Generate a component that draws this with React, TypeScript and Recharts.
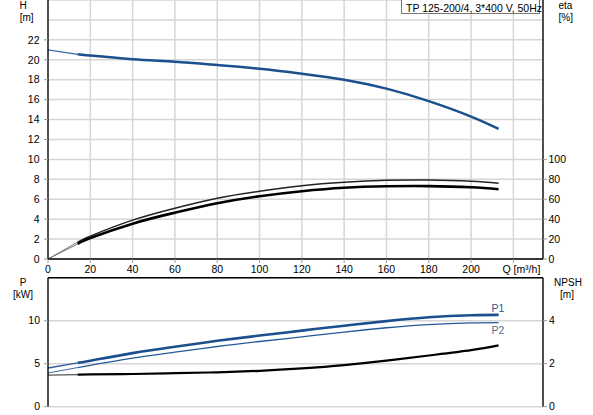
import React from "react";
import {
  LineChart,
  Line,
  XAxis,
  YAxis,
  CartesianGrid,
  ReferenceLine,
} from "recharts";

// ---------- data ----------
const Q_EXT = [0, 14];
const Q_MAIN = [14, 20, 40, 60, 80, 100, 120, 140, 160, 180, 200, 213];

const H_EXT = [21.0, 20.55];
const H_MAIN = [20.55, 20.42, 20.06, 19.8, 19.47, 19.1, 18.6, 18.0, 17.1, 15.85, 14.3, 13.07];

const ETA1_EXT = [0, 17];
const ETA1_MAIN = [17, 23, 39, 51, 61, 68, 73.5, 77, 79, 79.3, 78, 76];
const ETA2_EXT = [0, 15];
const ETA2_MAIN = [15, 21, 35.5, 46.5, 56, 63, 68, 71.5, 73, 73.2, 72, 70];

const P1_EXT = [4.5, 5.1];
const P1_MAIN = [5.1, 5.35, 6.23, 6.97, 7.66, 8.27, 8.85, 9.42, 9.95, 10.4, 10.64, 10.68];
const P2_EXT = [3.92, 4.55];
const P2_MAIN = [4.55, 4.81, 5.65, 6.34, 7.0, 7.58, 8.12, 8.68, 9.18, 9.55, 9.74, 9.78];

const NPSH_EXT = [1.47, 1.49];
const NPSH_MAIN = [1.49, 1.5, 1.52, 1.56, 1.6, 1.67, 1.78, 1.93, 2.14, 2.38, 2.63, 2.85];

const X_TICKS = [0, 20, 40, 60, 80, 100, 120, 140, 160, 180, 200, 220];
const H_TICKS = [0, 2, 4, 6, 8, 10, 12, 14, 16, 18, 20, 22, 24, 26];
const ETA_TICKS = [0, 20, 40, 60, 80, 100, 260];
const P_TICKS = [0, 5, 10, 15];
const NPSH_TICKS = [0, 2, 4, 6];

const TITLE = "TP 125-200/4, 3*400 V, 50Hz";

const build = (qs: number[], ys: number[]) => qs.map((q, i) => ({ q, y: ys[i] }));

// ---------- styles ----------
const FONT = "'Liberation Sans', Arial, sans-serif";
const FS = 10.5;
const GRID = "#d6d6d6";
const TICK_LINE = "#999";
const BLUE = "#1b4f8d";

const txt = { fontFamily: FONT, fontSize: FS, fill: "#000" } as const;
const utxt = { fontFamily: FONT, fontSize: 10, fill: "#000" } as const;

const XTick = (props: any) => {
  const { x, y, payload } = props;
  return (
    <g>
      <line x1={x} y1={y} x2={x} y2={y + 4} stroke={TICK_LINE} />
      {payload.value === 220 ? (
        <text x={x - 11} y={y + 14} textAnchor="start" {...txt}>
          Q [m³/h]
        </text>
      ) : (
        <text x={x} y={y + 14} textAnchor="middle" {...txt}>
          {payload.value}
        </text>
      )}
    </g>
  );
};

const HTick = (props: any) => {
  const { x, y, payload } = props;
  if (payload.value === 26) {
    return (
      <g>
        <text x={23} y={y + 9.1} textAnchor="middle" {...utxt}>H</text>
        <text x={26.7} y={y + 20.6} textAnchor="middle" {...utxt}>[m]</text>
      </g>
    );
  }
  if (payload.value === 24) return <g />;
  return (
    <g>
      <line x1={x - 4} y1={y} x2={x} y2={y} stroke={TICK_LINE} />
      <text x={x - 8.5} y={y + 3.75} textAnchor="end" {...txt}>
        {payload.value}
      </text>
    </g>
  );
};

const EtaTick = (props: any) => {
  const { x, y, payload } = props;
  if (payload.value === 260) {
    return (
      <g>
        <text x={x + 15.5} y={y + 9.1} textAnchor="start" {...utxt}>eta</text>
        <text x={x + 15.5} y={y + 20.6} textAnchor="start" {...utxt}>[%]</text>
      </g>
    );
  }
  return (
    <g>
      <line x1={x} y1={y} x2={x + 4} y2={y} stroke={TICK_LINE} />
      <text x={x + 5.5} y={y + 3.75} textAnchor="start" {...txt}>
        {payload.value}
      </text>
    </g>
  );
};

const PTick = (props: any) => {
  const { x, y, payload } = props;
  if (payload.value === 15) {
    return (
      <g>
        <text x={23} y={y + 8.3} textAnchor="middle" {...utxt}>P</text>
        <text x={23} y={y + 19.8} textAnchor="middle" {...utxt}>[kW]</text>
      </g>
    );
  }
  return (
    <g>
      <line x1={x - 4} y1={y} x2={x} y2={y} stroke={TICK_LINE} />
      <text x={x - 8} y={y + 3.75} textAnchor="end" {...txt}>
        {payload.value}
      </text>
    </g>
  );
};

const NpshTick = (props: any) => {
  const { x, y, payload } = props;
  if (payload.value === 6) {
    return (
      <g>
        <text x={568} y={y + 8.3} textAnchor="middle" {...utxt}>NPSH</text>
        <text x={567} y={y + 19.8} textAnchor="middle" {...utxt}>[m]</text>
      </g>
    );
  }
  return (
    <g>
      <line x1={x} y1={y} x2={x + 4} y2={y} stroke={TICK_LINE} />
      <text x={x + 6} y={y + 3.75} textAnchor="start" {...txt}>
        {payload.value}
      </text>
    </g>
  );
};

const endLabel = (name: string, dx: number, dy: number, color: string, lastIndex: number) =>
  (props: any) => {
    const { x, y, index } = props;
    if (index !== lastIndex) return null;
    return (
      <text x={x + dx} y={y + dy} textAnchor="start" fontFamily={FONT} fontSize={FS} fill={color}>
        {name}
      </text>
    );
  };

export default function App() {
  const last = Q_MAIN.length - 1;
  const lineCommon = {
    dot: false,
    activeDot: false,
    isAnimationActive: false,
    type: "natural" as const,
    dataKey: "y",
  };
  return (
    <div
      style={{
        position: "absolute",
        left: 0,
        top: 0,
        width: 593,
        height: 415,
        background: "#fff",
        overflow: "hidden",
      }}
    >
      <div style={{ position: "absolute", left: 0, top: 0 }}>
        <LineChart width={593} height={275} margin={{ top: 0, right: 0, bottom: 0, left: 0 }}>
          <CartesianGrid stroke={GRID} strokeWidth={1.5} xAxisId="q" yAxisId="h" />
          <XAxis
            xAxisId="q"
            dataKey="q"
            type="number"
            domain={[0, 234]}
            ticks={X_TICKS}
            interval={0}
            height={16}
            tickSize={0}
            tickMargin={0}
            tickLine={false}
            tick={<XTick />}
            axisLine={{ stroke: "#000", strokeWidth: 1.3 }}
          />
          <YAxis
            yAxisId="h"
            type="number"
            domain={[0, 26]}
            ticks={H_TICKS}
            interval={0}
            width={48}
            tickSize={0}
            tickMargin={0}
            tickLine={false}
            tick={<HTick />}
            axisLine={{ stroke: "#000", strokeWidth: 1.3 }}
          />
          <YAxis
            yAxisId="eta"
            orientation="right"
            type="number"
            domain={[0, 260]}
            ticks={ETA_TICKS}
            interval={0}
            width={50}
            tickSize={0}
            tickMargin={0}
            tickLine={false}
            tick={<EtaTick />}
            axisLine={{ stroke: "#000", strokeWidth: 1.3 }}
          />
          <Line {...lineCommon} xAxisId="q" yAxisId="h" data={build(Q_EXT, H_EXT)} stroke="#3f6aa3" strokeWidth={1.2} />
          <Line {...lineCommon} xAxisId="q" yAxisId="h" data={build(Q_MAIN, H_MAIN)} stroke={BLUE} strokeWidth={2.5} />
          <Line {...lineCommon} xAxisId="q" yAxisId="eta" data={build(Q_EXT, ETA1_EXT)} stroke="#777" strokeWidth={1} />
          <Line {...lineCommon} xAxisId="q" yAxisId="eta" data={build(Q_EXT, ETA2_EXT)} stroke="#777" strokeWidth={1} />
          <Line {...lineCommon} xAxisId="q" yAxisId="eta" data={build(Q_MAIN, ETA1_MAIN)} stroke="#222" strokeWidth={1.5} />
          <Line {...lineCommon} xAxisId="q" yAxisId="eta" data={build(Q_MAIN, ETA2_MAIN)} stroke="#000" strokeWidth={2.6} />
        </LineChart>
      </div>
      <div
        style={{
          position: "absolute",
          left: 401,
          top: -1,
          width: 139,
          height: 15,
          border: "1px solid #777",
          background: "#fff",
          fontFamily: FONT,
          fontSize: FS,
          lineHeight: "16px",
          paddingLeft: 4,
          boxSizing: "border-box",
          whiteSpace: "nowrap",
          color: "#000",
        }}
      >
        {TITLE}
      </div>
      <div style={{ position: "absolute", left: 0, top: 275 }}>
        <LineChart width={593} height={140} margin={{ top: 2.7, right: 0, bottom: 8.3, left: 0 }}>
          <CartesianGrid stroke={GRID} strokeWidth={1.5} xAxisId="q" yAxisId="p" />
          <XAxis
            xAxisId="q"
            dataKey="q"
            type="number"
            domain={[0, 234]}
            ticks={X_TICKS}
            interval={0}
            height={0}
            tick={false}
            tickLine={false}
            axisLine={false}
          />
          <YAxis
            yAxisId="p"
            type="number"
            domain={[0, 15]}
            ticks={P_TICKS}
            interval={0}
            width={48}
            tickSize={0}
            tickMargin={0}
            tickLine={false}
            tick={<PTick />}
            axisLine={{ stroke: "#000", strokeWidth: 1.3 }}
          />
          <YAxis
            yAxisId="npsh"
            orientation="right"
            type="number"
            domain={[0, 6]}
            ticks={NPSH_TICKS}
            interval={0}
            width={50}
            tickSize={0}
            tickMargin={0}
            tickLine={false}
            tick={<NpshTick />}
            axisLine={{ stroke: "#000", strokeWidth: 1.3 }}
          />
          <ReferenceLine xAxisId="q" yAxisId="p" y={15} stroke="#000" strokeWidth={1.5} ifOverflow="visible" />
          <Line {...lineCommon} xAxisId="q" yAxisId="p" data={build(Q_EXT, P1_EXT)} stroke="#2a5d9a" strokeWidth={1.3} />
          <Line {...lineCommon} xAxisId="q" yAxisId="p" data={build(Q_EXT, P2_EXT)} stroke="#3b6aa5" strokeWidth={1} />
          <Line {...lineCommon} xAxisId="q" yAxisId="npsh" data={build(Q_EXT, NPSH_EXT)} stroke="#555" strokeWidth={1.2} />
          <Line
            {...lineCommon}
            xAxisId="q"
            yAxisId="p"
            data={build(Q_MAIN, P1_MAIN)}
            stroke={BLUE}
            strokeWidth={2.6}
            label={endLabel("P1", -7, -2.5, "#2b5a94", last)}
          />
          <Line
            {...lineCommon}
            xAxisId="q"
            yAxisId="p"
            data={build(Q_MAIN, P2_MAIN)}
            stroke="#24599a"
            strokeWidth={1.3}
            label={endLabel("P2", -7, 11, "#4f6f98", last)}
          />
          <Line {...lineCommon} xAxisId="q" yAxisId="npsh" data={build(Q_MAIN, NPSH_MAIN)} stroke="#000" strokeWidth={2.2} />
        </LineChart>
      </div>
    </div>
  );
}
